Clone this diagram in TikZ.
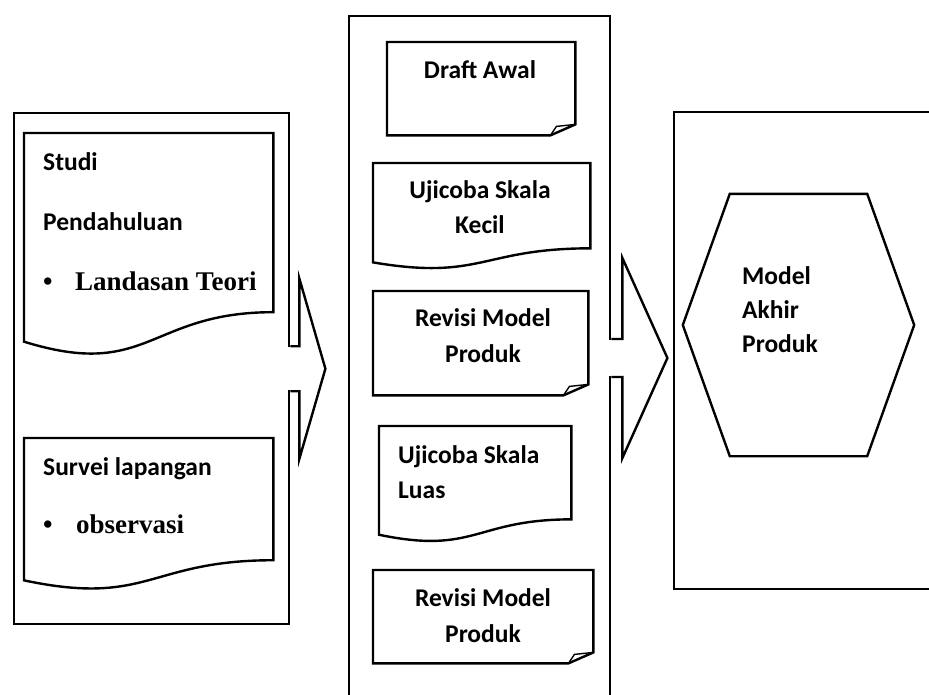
\documentclass[tikz,border=0pt]{standalone}
\usepackage{fontspec}
\setmainfont{Carlito}
\newfontfamily\bodyserif{Liberation Serif}
\usetikzlibrary{positioning, calc}

% document sheet with a wavy lower edge
\newcommand{\wavedoc}[1]{%
  \draw[boxline] (#1.north west) -- (#1.north east)
    -- ($(#1.north east)!0.802!(#1.south east)$)
    .. controls ($(#1.north)!0.802!(#1.south)$) and ($(#1.north)!1.1075!(#1.south)$)
    .. ($(#1.north west)!0.934!(#1.south west)$) -- cycle;}
% sheet with a folded lower right corner
\newcommand{\folddoc}[1]{%
  \draw[boxline] (#1.north west) -- (#1.north east) -- ($(#1.south east)+(0,-11)$)
    -- ($(#1.south east)+(-25,0)$) -- (#1.south west) -- cycle;
  \draw[line width=1.4pt] ($(#1.south east)+(-25,0)$) -- ($(#1.south east)+(-19,-9)$)
    -- ($(#1.south east)+(0,-11)$);}
% block arrow: start, bar width, shaft half height, head half height, tip length
\newcommand{\blockarrow}[5]{%
  \fill[white] ($(#1)+(-2,-#3+1.2)$) rectangle ($(#1)+(2,#3-1.2)$);
  \draw[boxline] ($(#1)+(0,-#3)$) -- ++(#2,0) -- ++(0,#3-#4) -- ++(#5,#4)
    -- ++(-#5,#4) -- ++(0,#3-#4) -- ++(-#2,0);}

\begin{document}
\begin{tikzpicture}[
  x=1pt, y=-1pt,
  font=\bfseries\fontsize{25.5}{36}\selectfont,
  boxline/.style={line width=2.4pt},
  outer/.style={rectangle, draw, boxline, inner sep=0pt, anchor=north west},
  sheet/.style={rectangle, inner sep=0pt, anchor=north west},
  doctext/.style={inner sep=0pt, align=flush left, anchor=base west},
  bullet/.style={font=\bodyserif\bfseries\fontsize{27}{36}\selectfont},
]
\useasboundingbox (0,0) rectangle (929,694);
\clip (0,0) rectangle (929,694);

\node[outer, minimum width=275, minimum height=511] (pre) at (13,112) {};
\node[outer, minimum width=261, minimum height=720] (dev) at (348,15) {};
\node[outer, minimum width=272, minimum height=477] (final) at (673,111) {};

\node[sheet, minimum width=249, minimum height=223] (studi) at (24,133) {};
\node[sheet, minimum width=249, minimum height=152] (survei) at (24,438) {};
\node[sheet, minimum width=188, minimum height=93] (draft) at (387,42) {};
\node[sheet, minimum width=217, minimum height=106] (kecil) at (373,163) {};
\node[sheet, minimum width=215, minimum height=104] (revisiA) at (373,291) {};
\node[sheet, minimum width=192, minimum height=116] (luas) at (379,426) {};
\node[sheet, minimum width=220, minimum height=93] (revisiB) at (373,570) {};
\node[sheet, anchor=center, minimum width=231, minimum height=262] (akhir) at (798.5,325) {};

\wavedoc{studi}
\wavedoc{survei}
\wavedoc{kecil}
\wavedoc{luas}
\folddoc{draft}
\folddoc{revisiA}
\folddoc{revisiB}
\draw[boxline] (akhir.west) -- ($(akhir.north west)+(47,0)$) -- ($(akhir.north east)+(-47,0)$)
  -- (akhir.east) -- ($(akhir.south east)+(-47,0)$) -- ($(akhir.south west)+(47,0)$) -- cycle;

\node[doctext, text width=235, font=\bfseries\fontsize{25.5}{60}\selectfont] (studiText) at (43,170)
  {Studi\\Pendahuluan\\{\bodyserif\fontsize{27}{60}\selectfont\makebox[32pt][l]{•}Landasan Teori}};
\node[doctext, text width=235, font=\bfseries\fontsize{25.5}{58}\selectfont] (surveiText) at (43,475)
  {Survei lapangan\\{\bodyserif\fontsize{27}{58}\selectfont\makebox[33pt][l]{•}observasi}};
\node[doctext, anchor=base] (draftText) at (480,78) {Draft Awal};
\node[doctext, anchor=base, align=flush center, text width=210, font=\bfseries\fontsize{25.5}{35}\selectfont]
  (kecilText) at (480,198) {Ujicoba Skala\\Kecil};
\node[doctext, anchor=base, align=flush center, text width=210] (revisiAText) at (483,326) {Revisi Model\\Produk};
\node[doctext, text width=170, font=\bfseries\fontsize{25.5}{35}\selectfont] (luasText) at (398,463)
  {Ujicoba Skala\\Luas};
\node[doctext, anchor=base, align=flush center, text width=210] (revisiBText) at (483,606) {Revisi Model\\Produk};
\node[doctext, text width=120, font=\bfseries\fontsize{25.5}{34}\selectfont] (akhirText) at (742,284)
  {Model\\Akhir\\Produk};

\coordinate (a1) at (pre.east);
\coordinate (a2) at ($(dev.north east)+(0,343)$);
\blockarrow{a1}{9}{22.5}{90}{26}
\blockarrow{a2}{11}{19}{100}{45}

\end{tikzpicture}
\end{document}
